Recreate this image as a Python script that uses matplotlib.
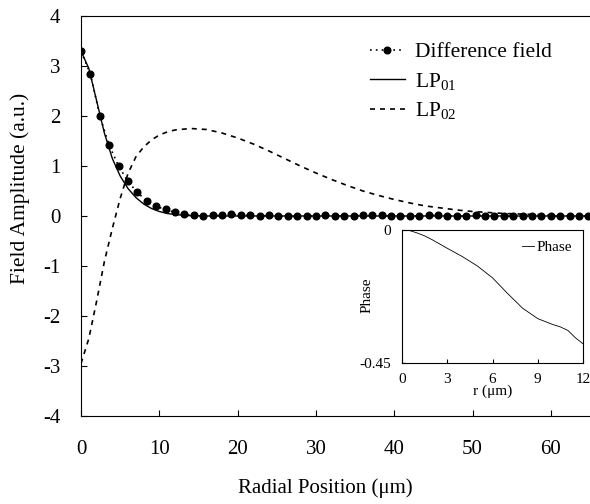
import numpy as np
import matplotlib
matplotlib.use("Agg")
import matplotlib.pyplot as plt

plt.rcParams['font.family'] = ['Liberation Serif', 'DejaVu Serif']
plt.rcParams['mathtext.default'] = 'regular'
plt.rcParams['axes.unicode_minus'] = False

# difference field (dots), sampled every 1.2 um
diff_x = np.arange(0, 65, 1.2)
diff_y = [3.29, 2.84, 2.0, 1.41, 1.0, 0.69, 0.47, 0.30, 0.19, 0.13, 0.07,
          0.03, 0.01, 0.0, 0.01, 0.01, 0.03, 0.02, 0.01, 0.0, 0.01, 0.0,
          -0.01, -0.01, 0.0, 0.0, 0.01, 0.0, 0.0, 0.0, 0.02, 0.01, 0.01,
          0.0, -0.01, 0.0, 0.0, 0.01, 0.02, 0.0, -0.01, 0.0, 0.01, 0.0,
          0.0, 0.0, -0.01, 0.0, 0.0, 0.0, -0.01, 0.0, 0.0, -0.01, 0.0]
diff_y = diff_y[:len(diff_x)]

lp01_x = [0, 1, 2, 3, 4, 5, 6, 7, 8, 9, 10, 11, 12, 13, 14, 16, 20, 30, 40, 50, 65]
lp01_y = [3.3, 2.95, 2.3, 1.65, 1.15, 0.8, 0.55, 0.37, 0.24, 0.15, 0.09, 0.05,
          0.03, 0.015, 0.005, 0.0, 0.0, 0.0, 0.0, 0.0, 0.0]

lp02_x = [0, 1, 2, 3, 4, 5, 6, 7, 8, 9, 10, 11, 12, 14, 16, 18, 20, 22, 24, 26,
          28, 30, 32, 34, 36, 38, 40, 42, 44, 46, 48, 50, 52, 54, 56, 58, 60, 62, 65]
lp02_y = [-2.95, -2.45, -1.7, -0.9, -0.25, 0.35, 0.85, 1.18, 1.38, 1.52, 1.62,
          1.68, 1.72, 1.75, 1.73, 1.66, 1.56, 1.44, 1.3, 1.15, 1.0, 0.86, 0.73,
          0.61, 0.5, 0.41, 0.33, 0.26, 0.2, 0.16, 0.12, 0.09, 0.07, 0.05, 0.04,
          0.03, 0.02, 0.01, 0.01]

# inset: phase vs r
phase_r = [0, 0.5, 1, 1.5, 2, 3, 4, 5, 6, 7, 8, 9, 10, 10.5, 11, 11.5, 12]
phase_v = [0, -0.002, -0.01, -0.02, -0.033, -0.062, -0.09, -0.122, -0.162,
           -0.215, -0.265, -0.3, -0.32, -0.328, -0.34, -0.365, -0.385]

fig = plt.figure(figsize=(5.9, 5.04), dpi=100)
ax = fig.add_axes([0.1373, 0.1746, 0.8627, 0.7937])

ax.plot(diff_x, diff_y, color='black', linestyle=(0, (1, 2.5)), linewidth=1.2,
        marker='o', markersize=4.8, label='Difference field')
ax.plot(lp01_x, lp01_y, color='black', linewidth=1.0, label='LP$_{01}$')
ax.plot(lp02_x, lp02_y, color='black', linestyle=(0, (3, 3)), linewidth=1.2,
        label='LP$_{02}$')

ax.set_xlim(0, 65)
ax.set_ylim(-4, 4)
ax.set_xticks(range(0, 61, 10))
ax.set_yticks(range(-4, 5))
ax.spines['right'].set_visible(False)
ax.tick_params(direction='in', labelsize=15, length=4)
ax.tick_params(axis='x', pad=17)
ax.tick_params(axis='y', pad=15)
ax.set_xlabel('Radial Position (μm)', fontsize=15)
ax.set_ylabel('Field Amplitude (a.u.)', fontsize=15.5)
ax.xaxis.set_label_coords(0.48, -0.155)
ax.yaxis.set_label_coords(-0.10, 0.57)

ax.legend(loc='upper left', bbox_to_anchor=(0.568, 0.935), frameon=False,
          fontsize=15.5, numpoints=1, handlelength=1.6, handletextpad=0.47,
          labelspacing=0.4, borderpad=0, borderaxespad=0)

ins = fig.add_axes([0.6814, 0.2798, 0.3068, 0.2639])
ins.plot(phase_r, phase_v, color='black', linewidth=0.6, label='Phase')
ins.set_xlim(0, 12)
ins.set_ylim(-0.45, 0)
ins.set_xticks([0, 3, 6, 9, 12])
ins.set_yticks([-0.45, 0])
ins.set_yticklabels(['-0.45', '0'])
ins.tick_params(direction='in', labelsize=11, length=3)
ins.tick_params(axis='x', pad=7)
ins.tick_params(axis='y', pad=8)
ins.set_xlabel('r (μm)', fontsize=11)
ins.set_ylabel('Phase', fontsize=11)
ins.xaxis.set_label_coords(0.5, -0.16)
ins.yaxis.set_label_coords(-0.155, 0.51)
ins.legend(loc='upper right', frameon=False, fontsize=11, handlelength=0.8,
           handletextpad=0.2, borderaxespad=0.3)

fig.savefig('out.png', dpi=100)
